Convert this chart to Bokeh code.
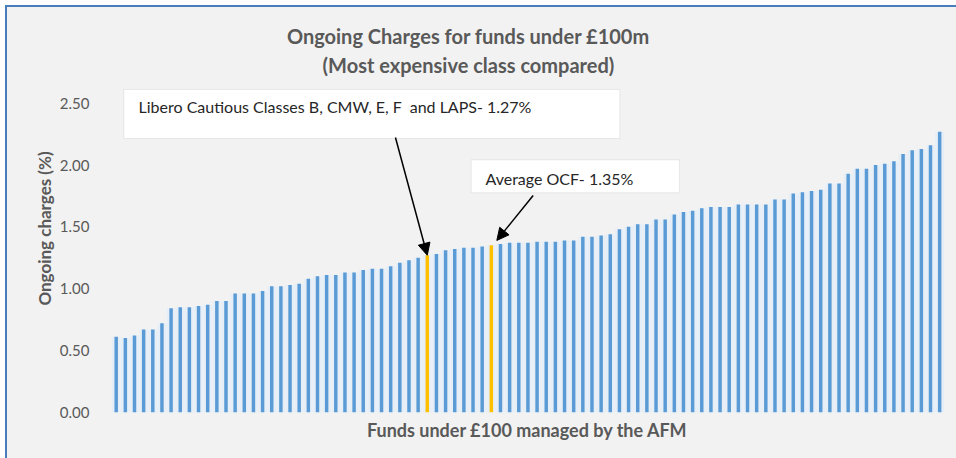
from bokeh.plotting import figure
from bokeh.models import (ColumnDataSource, FixedTicker, NumeralTickFormatter, Label,
                          BoxAnnotation, Arrow, NormalHead, Range1d)
from bokeh.embed import file_html
from bokeh.resources import INLINE

# ---- data ----
values = [
    0.61, 0.60, 0.62, 0.67, 0.67, 0.72, 0.84, 0.85, 0.85, 0.86, 0.87, 0.90, 0.90,
    0.96, 0.96, 0.96, 0.98, 1.02, 1.02, 1.03, 1.04, 1.08,
    1.10, 1.11, 1.11, 1.13, 1.13, 1.15, 1.16, 1.16, 1.18, 1.21, 1.23, 1.25, 1.27,
    1.28, 1.31, 1.32, 1.33, 1.33, 1.34, 1.35, 1.36, 1.37, 1.37,
    1.37, 1.38, 1.38, 1.38, 1.39, 1.39, 1.42, 1.42, 1.43, 1.44, 1.48, 1.50, 1.52,
    1.52, 1.56, 1.56, 1.60, 1.62, 1.63, 1.65, 1.66, 1.66,
    1.66, 1.68, 1.68, 1.68, 1.68, 1.72, 1.72, 1.77, 1.78, 1.79, 1.80, 1.85, 1.85,
    1.93, 1.97, 1.97, 2.00, 2.01, 2.03, 2.09, 2.12, 2.13, 2.16, 2.27,
]
highlight_libero = 34   # Libero Cautious - 1.27%
highlight_average = 41  # Average OCF - 1.35%
y_ticks = [0.0, 0.5, 1.0, 1.5, 2.0, 2.5]

title_lines = ["Ongoing Charges for funds under £100m", "(Most expensive class compared)"]
x_label = "Funds under £100 managed by the AFM"
y_label = "Ongoing charges (%)"
note_libero = "Libero Cautious Classes B, CMW, E, F \u00a0and LAPS- 1.27%"
note_average = "Average OCF- 1.35%"

BLUE = "#5B9BD5"
GOLD = "#FFC000"
GREY_TXT = "#595959"
FONT = "Lato"

xs = list(range(len(values)))
colors = [GOLD if i in (highlight_libero, highlight_average) else BLUE for i in xs]
src = ColumnDataSource(dict(x=xs, top=values, color=colors))

p = figure(width=956, height=458, output_backend="svg", toolbar_location=None,
           x_range=Range1d(-1.06, 91.84), y_range=Range1d(-0.229, 3.2015),
           frame_width=850, frame_height=424,
           min_border_left=106, min_border_right=0, min_border_top=16, min_border_bottom=18)
p.styles = {"background-color": "#F2F2F2",
            "box-shadow": "inset 5px 5px 0 0 #FFFFFF, inset 7px 7px 0 0 #4A7EBB"}
p.background_fill_color = "#F2F2F2"
p.border_fill_color = None
p.border_fill_alpha = 0
p.outline_line_color = None
p.grid.visible = False
p.xaxis.visible = False

# glow + bars
p.vbar(x="x", top="top", width=0.95, bottom=0, source=src, fill_color="#E4EEF8",
       line_color=None, fill_alpha=0.9)
p.vbar(x="x", top="top", width=0.38, bottom=0, source=src, fill_color="color",
       line_color=None)

yax = p.yaxis[0]
yax.ticker = FixedTicker(ticks=y_ticks)
yax.formatter = NumeralTickFormatter(format="0.00")
yax.axis_line_color = None
yax.major_tick_line_color = None
yax.minor_tick_line_color = None
yax.major_label_standoff = 11
yax.major_label_text_font = FONT
yax.major_label_text_font_size = "15px"
yax.major_label_text_color = GREY_TXT
yax.axis_label = y_label
yax.axis_label_standoff = 2
yax.axis_label_text_font = FONT
yax.axis_label_text_font_size = "17px"
yax.axis_label_text_font_style = "bold"
yax.axis_label_text_color = GREY_TXT

# title (two lines)
p.add_layout(Label(x=38.5, y=3.040, text=title_lines[0], text_font=FONT, text_font_size="20px",
                   text_font_style="bold", text_color=GREY_TXT, text_align="center",
                   text_baseline="middle"))
p.add_layout(Label(x=38.5, y=2.813, text=title_lines[1], text_font=FONT, text_font_size="20px",
                   text_font_style="bold", text_color=GREY_TXT, text_align="center",
                   text_baseline="middle"))
# x axis label
p.add_layout(Label(x=44.95, y=-0.148, text=x_label, text_font=FONT, text_font_size="18px",
                   text_font_style="bold", text_color=GREY_TXT, text_align="center",
                   text_baseline="middle"))

# annotation boxes
p.add_layout(BoxAnnotation(left=0.83, right=55.04, bottom=2.214, top=2.611,
                           fill_color="white", fill_alpha=1, line_color="#BFBFBF",
                           line_width=1))
p.add_layout(BoxAnnotation(left=38.8, right=61.56, bottom=1.775, top=2.042,
                           fill_color="white", fill_alpha=1, line_color="#BFBFBF",
                           line_width=1))
p.add_layout(Label(x=2.44, y=2.47, text=note_libero, text_font=FONT, text_font_size="16px",
                   text_color="#262626", text_baseline="middle"))
p.add_layout(Label(x=40.36, y=1.893, text=note_average, text_font=FONT, text_font_size="16px",
                   text_color="#262626", text_baseline="middle"))

# arrows
p.add_layout(Arrow(end=NormalHead(size=12, fill_color="black", line_color="black"),
                   x_start=30.52, y_start=2.222,
                   x_end=highlight_libero, y_end=values[highlight_libero],
                   line_color="black", line_width=1.5))
p.add_layout(Arrow(end=NormalHead(size=12, fill_color="black", line_color="black"),
                   x_start=45.57, y_start=1.753,
                   x_end=highlight_average + 0.6, y_end=values[highlight_average] + 0.04,
                   line_color="black", line_width=1.5))

open("out.html", "w").write(file_html(p, INLINE))
